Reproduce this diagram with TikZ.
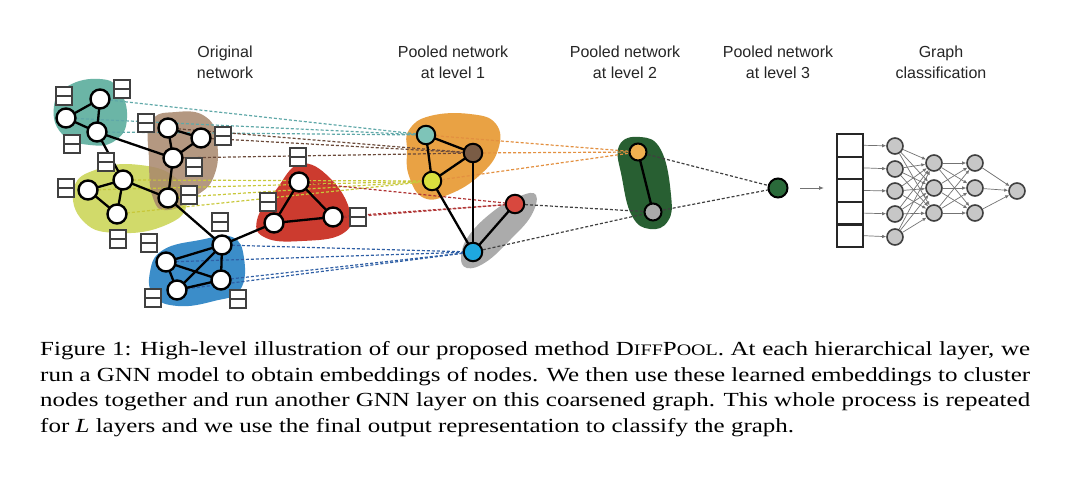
\documentclass[tikz,border=0pt]{standalone}
\usepackage{fontspec}
\setmainfont{Liberation Serif}
\newfontfamily\capfont[FakeStretch=1.25]{Liberation Serif}
\newfontfamily\labelfont{Liberation Sans}
\usetikzlibrary{arrows.meta}
\pgfdeclarelayer{bg}
\pgfdeclarelayer{mid}
\pgfsetlayers{bg,mid,main}
\definecolor{cteal}{HTML}{6BB5A6}
\definecolor{cbrown}{HTML}{A8876C}
\definecolor{cyellow}{HTML}{CDD65A}
\definecolor{cblue}{HTML}{3B8DC9}
\definecolor{cred}{HTML}{CC3B2F}
\definecolor{corange}{HTML}{E9A244}
\definecolor{cgray}{HTML}{ABABAB}
\definecolor{cgreen}{HTML}{285F32}
\definecolor{dteal}{HTML}{5FA8A8}
\definecolor{dbrown}{HTML}{6B4A3A}
\definecolor{dyellow}{HTML}{C8C83A}
\definecolor{dred}{HTML}{B03535}
\definecolor{dblue}{HTML}{2F5FA5}
\definecolor{dorange}{HTML}{E39040}
\definecolor{ddark}{HTML}{404040}
\definecolor{nteal}{HTML}{7EC4B8}
\definecolor{nbrown}{HTML}{7A5C45}
\definecolor{nyellow}{HTML}{D9E03E}
\definecolor{nred}{HTML}{D8483E}
\definecolor{nblue}{HTML}{1EA8E0}
\definecolor{norange}{HTML}{F0B050}
\definecolor{ngray}{HTML}{AAAAAA}
\definecolor{ngreen}{HTML}{2A6A3A}
\begin{document}
\begin{tikzpicture}[x=1pt,y=-1pt,
  gn/.style={circle,draw=black,line width=2.4pt,fill=white,minimum size=19pt,inner sep=0pt},
  pn/.style={circle,draw=black,line width=2pt,minimum size=18.5pt,inner sep=0pt},
  edge/.style={line width=2.3pt,black},
  fb/.style={draw=black!75,line width=1.6pt,fill=white,minimum width=16pt,minimum height=18.5pt,inner sep=0pt,
    path picture={\draw[black!75,line width=1.6pt] (path picture bounding box.west) -- (path picture bounding box.east);}},
  dl/.style={dashed,dash pattern=on 3pt off 2pt,line width=1.2pt},
  neur/.style={circle,draw=black!75,line width=1.6pt,fill=black!22,minimum size=16pt,inner sep=0pt},
  cell/.style={draw=black!85,line width=2.2pt,minimum width=26pt,minimum height=22.6pt,inner sep=0pt},
  nnarr/.style={black!55,line width=0.7pt,-{Latex[length=4pt,width=3.5pt]}},
  lab/.style={align=center,font=\labelfont\fontsize{16}{21}\selectfont,text=black!85}
]
\useasboundingbox (0,0) rectangle (1080,482);
\begin{pgfonlayer}{bg}
\fill[white] (0,0) rectangle (1080,482);
\end{pgfonlayer}

% ---------- labels
\node[lab] (l0) at (225,62) {Original\\network};
\node[lab] (l1) at (453,62) {Pooled network\\at level 1};
\node[lab] (l2) at (625,62) {Pooled network\\at level 2};
\node[lab] (l3) at (778,62) {Pooled network\\at level 3};
\node[lab] (l4) at (941,62) {Graph\\classification};

% ---------- original network nodes
\node[gn] (A1) at (100,99) {};
\node[gn] (A2) at (66,118) {};
\node[gn] (A3) at (97,132) {};
\node[gn] (B1) at (168,128) {};
\node[gn] (B2) at (201,138) {};
\node[gn] (B3) at (173,158) {};
\node[gn] (Y1) at (123,180) {};
\node[gn] (Y2) at (88,190) {};
\node[gn] (Y3) at (117,214) {};
\node[gn] (Y4) at (168,198) {};
\node[gn] (L1) at (222,245) {};
\node[gn] (L2) at (166,262) {};
\node[gn] (L3) at (221,280) {};
\node[gn] (L4) at (177,290) {};
\node[gn] (R1) at (299,182) {};
\node[gn] (R2) at (274,223) {};
\node[gn] (R3) at (333,217) {};

% ---------- feature boxes
\foreach \n/\x/\y in {f1/64/96, f2/122/89, f3/146/123, f4/72/144, f5/106/162, f6/223/136,
  f7/194/167, f8/66/188, f9/189/195, f10/118/239, f11/149/243, f12/220/222, f13/153/298,
  f14/238/299, f15/298/157, f16/268/202, f17/358/217}
  \node[fb] (\n) at (\x,\y) {};

% ---------- level 1
\node[pn,fill=nteal] (P1) at (426,135) {};
\node[pn,fill=nbrown] (P2) at (473,153) {};
\node[pn,fill=nyellow] (P3) at (432,181) {};
\node[pn,fill=nred] (P4) at (515,204) {};
\node[pn,fill=nblue] (P5) at (473,252) {};
% ---------- level 2
\node[pn,fill=norange,minimum size=17pt] (Q1) at (638,152) {};
\node[pn,fill=ngray,minimum size=17pt] (Q2) at (653,212) {};
% ---------- level 3
\node[pn,fill=ngreen,minimum size=19pt] (T) at (778,188) {};

% ---------- classifier
\foreach \i in {1,...,5}
  \node[cell] (c\i) at (850,{134+22.6*(\i-0.5)}) {};
\node[neur] (n1) at (895,146) {};
\node[neur] (n2) at (895,169) {};
\node[neur] (n3) at (895,191) {};
\node[neur] (n4) at (895,214) {};
\node[neur] (n5) at (895,237) {};
\node[neur] (m1) at (934,163) {};
\node[neur] (m2) at (934,188) {};
\node[neur] (m3) at (934,213) {};
\node[neur] (k1) at (975,163) {};
\node[neur] (k2) at (975,188) {};
\node[neur] (k3) at (975,213) {};
\node[neur] (o) at (1017,191) {};
\foreach \i in {1,...,5} \draw[nnarr] (c\i.east) -- (n\i);
\foreach \i in {1,...,5} \foreach \j in {1,2,3} \draw[nnarr] (n\i) -- (m\j);
\foreach \i in {1,2,3} \foreach \j in {1,2,3} \draw[nnarr] (m\i) -- (k\j);
\foreach \i in {1,2,3} \draw[nnarr] (k\i) -- (o);
\coordinate (arS) at (800,188);
\coordinate (arE) at (824,188);
\draw[black!55,line width=1pt,-{Latex[length=5pt,width=4pt,fill=black]}] (arS) -- (arE);

% ---------- blobs (background)
\begin{pgfonlayer}{bg}
\fill[cteal] plot[smooth cycle,tension=0.8] coordinates {(54,106) (68,86) (100,79) (119,90) (127,118) (116,140) (90,145) (62,134)};
\fill[cyellow,opacity=0.9] plot[smooth cycle,tension=0.8] coordinates {(74,188) (98,169) (140,165) (176,178) (187,204) (166,225) (120,233) (84,222)};
\fill[cbrown,opacity=0.85] plot[smooth cycle,tension=0.8] coordinates {(151,122) (176,112) (206,117) (217,142) (214,176) (196,196) (168,210) (153,198) (149,160)};
\fill[cblue] plot[smooth cycle,tension=0.75] coordinates {(150,272) (163,250) (200,240) (232,237) (244,258) (240,290) (214,301) (178,306) (154,296)};
\fill[cred] plot[smooth cycle,tension=0.75] coordinates {(300,164) (330,178) (350,212) (342,234) (302,241) (266,238) (257,220) (276,190)};
\fill[corange] plot[smooth cycle,tension=0.75] coordinates {(409,130) (430,116) (470,114) (496,124) (498,150) (480,175) (450,194) (424,198) (409,176) (407,150)};
\fill[cgray] plot[smooth cycle,tension=0.7] coordinates {(461,256) (470,234) (495,210) (520,196) (536,195) (531,216) (510,240) (486,262) (467,268)};
\fill[cgreen] plot[smooth cycle,tension=0.75] coordinates {(619,146) (640,137) (661,150) (671,195) (668,221) (650,229) (632,216) (622,178)};
\end{pgfonlayer}

% ---------- dashed assignment lines and edges
\begin{pgfonlayer}{mid}
\foreach \s in {A1,A2,A3} \draw[dl,dteal] (\s.center) -- (P1.center);
\foreach \s in {B1,B2,B3} \draw[dl,dbrown] (\s.center) -- (P2.center);
\foreach \s in {Y1,Y2,Y3,Y4} \draw[dl,dyellow] (\s.center) -- (P3.center);
\foreach \s in {R1,R2,R3} \draw[dl,dred] (\s.center) -- (P4.center);
\foreach \s in {L1,L2,L3,L4} \draw[dl,dblue] (\s.center) -- (P5.center);
\foreach \s in {P1,P2,P3} \draw[dl,dorange] (\s.center) -- (Q1.center);
\foreach \s in {P4,P5} \draw[dl,ddark] (\s.center) -- (Q2.center);
\foreach \s in {Q1,Q2} \draw[dl,ddark] (\s.center) -- (T.center);
\foreach \a/\b in {A1/A2,A2/A3,A1/A3,A3/B3,A3/Y1,B1/B2,B1/B3,B2/B3,B3/Y4,
  Y1/Y2,Y1/Y3,Y2/Y3,Y1/Y4,Y4/L1,L1/L2,L1/L3,L1/L4,L2/L3,L2/L4,L3/L4,L1/R2,
  R1/R2,R1/R3,R2/R3,P1/P2,P1/P3,P2/P3,P3/P5,P2/P5,P4/P5,Q1/Q2}
  \draw[edge] (\a.center) -- (\b.center);
\end{pgfonlayer}

% ---------- caption
\begin{scope}[every node/.style={anchor=base west,inner sep=0pt,font=\capfont\fontsize{20}{25}\selectfont}]
\node (cap1) at (40,355.5) {\makebox[990pt][s]{Figure 1: High-level illustration of our proposed method D{\fontsize{16}{18}\selectfont IFF}P{\fontsize{16}{18}\selectfont OOL}. At each hierarchical layer, we}};
\node (cap2) at (40,381) {\makebox[990pt][s]{run a GNN model to obtain embeddings of nodes. We then use these learned embeddings to cluster}};
\node (cap3) at (40,406.5) {\makebox[990pt][s]{nodes together and run another GNN layer on this coarsened graph. This whole process is repeated}};
\node (cap4) at (40,432) {for \textit{L} layers and we use the final output representation to classify the graph.};
\end{scope}
\end{tikzpicture}
\end{document}
